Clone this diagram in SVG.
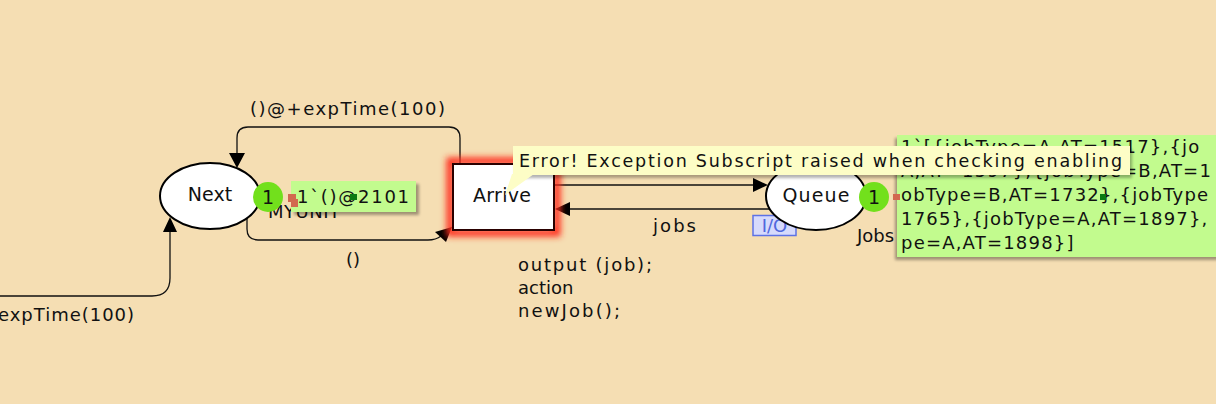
<svg xmlns="http://www.w3.org/2000/svg" width="1216" height="404" viewBox="0 0 1216 404">
<style>
.t{font-family:"DejaVu Sans","Liberation Sans",sans-serif;font-size:18px;fill:#111}
.node{font-family:"DejaVu Sans","Liberation Sans",sans-serif;font-size:19px;fill:#111}
.arc{fill:none;stroke:#111;stroke-width:1.3}
.head{fill:#000}
.place{fill:#fff;stroke:#000;stroke-width:2}
.tok{fill:#72e01c}
.mark{fill:#c2fb8e}
.red{fill:#d2684f}
.dg{fill:#0a7a12}
.mk{font-family:"DejaVu Sans","Liberation Sans",sans-serif;font-size:18px;fill:#111;letter-spacing:1.2px}
</style>
<defs>
<filter id="glow" x="-30%" y="-30%" width="160%" height="160%"><feGaussianBlur stdDeviation="3"/></filter>
<filter id="sh" x="-10%" y="-10%" width="130%" height="140%"><feGaussianBlur stdDeviation="1.5"/></filter>
</defs>
<rect x="0" y="0" width="1216" height="404" fill="#f5deb3"/>

<g id="connectors">
  <path class="arc" d="M460,164 V138 Q460,127 449,127 H248 Q237,127 237,138 V154"/>
  <polygon class="head" points="237,168 229,153 245,153"/>
  <path class="arc" d="M247,218 V229 Q247,240 258,240 H428 Q436,240 441,236"/>
  <polygon class="head" points="452,227 435,232 446,242"/>
  <path class="arc" d="M554,185 H754"/>
  <polygon class="head" points="768,185 753,178 753,192"/>
  <path class="arc" d="M770,209 H569"/>
  <polygon class="head" points="555,209 570,202 570,216"/>
  <path class="arc" d="M-5,296 H152 Q170,296 170,278 V231"/>
  <polygon class="head" points="170,217 163,232 177,232"/>
  <text class="t" x="250" y="115" textLength="195" lengthAdjust="spacing">()@+expTime(100)</text>
  <text class="t" x="346" y="266">()</text>
  <text class="t" x="-2" y="321" textLength="136" lengthAdjust="spacing">expTime(100)</text>
  <text class="t" x="653" y="232" textLength="43" lengthAdjust="spacing">jobs</text>
  <g id="io-tag">
    <rect x="753" y="215.5" width="43" height="20" fill="#d6dafc" stroke="#5c72e6" stroke-width="1.5"/>
    <text x="774.5" y="232" text-anchor="middle" font-family="DejaVu Sans, sans-serif" font-size="18" fill="#5068dc">I/O</text>
  </g>
</g>

<g id="node-next">
  <ellipse class="place" cx="210" cy="196" rx="50" ry="33"/>
  <text class="node" x="210" y="201" text-anchor="middle">Next</text>
  <text class="t" x="268" y="218" textLength="72" lengthAdjust="spacing">MYUNIT</text>
</g>

<g id="node-arrive">
  <rect x="450" y="161" width="107" height="72" fill="none" stroke="#ff2a1a" stroke-width="7" filter="url(#glow)"/>
  <rect x="453" y="164" width="101" height="66" fill="#fff" stroke="#2a0000" stroke-width="2"/>
  <text class="node" x="502" y="202" text-anchor="middle" textLength="58" lengthAdjust="spacing">Arrive</text>
  <text class="t" x="518" y="271" textLength="134" lengthAdjust="spacing">output (job);</text>
  <text class="t" x="518" y="294">action</text>
  <text class="t" x="518" y="317" textLength="102" lengthAdjust="spacing">newJob();</text>
</g>

<g id="node-queue">
  <ellipse class="place" cx="816" cy="196" rx="50" ry="34"/>
  <text class="node" x="816" y="202" text-anchor="middle" textLength="67" lengthAdjust="spacing">Queue</text>
  <text class="t" x="857" y="242">Jobs</text>
</g>

<g id="marking-next">
  <rect x="294" y="184" width="125" height="31" fill="#000" opacity="0.35" filter="url(#sh)"/>
  <rect x="291" y="181" width="125" height="31" class="mark"/>
  <text class="t" x="297" y="203" textLength="112" lengthAdjust="spacing">1`()@2101</text>
  <rect class="red" x="288" y="194" width="8" height="8"/>
  <rect class="red" x="291" y="199" width="7" height="8"/>
  <rect class="dg" x="350" y="194" width="7" height="6"/>
  <circle class="tok" cx="268" cy="197" r="15"/>
  <text x="268" y="204" text-anchor="middle" font-family="DejaVu Sans, sans-serif" font-size="19" fill="#111">1</text>
</g>

<g id="marking-queue">
  <rect x="895" y="138" width="330" height="122" fill="#000" opacity="0.35" filter="url(#sh)"/>
  <rect x="897" y="135" width="330" height="122" class="mark"/>
  <text class="mk" x="901" y="153">1`[{jobType=A,AT=1517},{jo</text>
  <text class="mk" x="901" y="177">A,AT=1597},{jobType=B,AT=1</text>
  <text class="mk" x="901" y="201">obType=B,AT=1732},{jobType</text>
  <text class="mk" x="901" y="225">1765},{jobType=A,AT=1897},</text>
  <text class="mk" x="901" y="249">pe=A,AT=1898}]</text>
  <rect class="red" x="893" y="194" width="7" height="6"/>
  <rect class="dg" x="1100" y="194" width="6" height="6"/>
  <circle class="tok" cx="874" cy="197" r="15"/>
  <text x="874" y="204" text-anchor="middle" font-family="DejaVu Sans, sans-serif" font-size="19" fill="#111">1</text>
</g>

<g id="tooltip">
  <rect x="515" y="149" width="617" height="29" fill="#000" opacity="0.3" filter="url(#sh)"/>
  <polygon points="512,174 534,174 505,195" fill="#fdfdc6"/>
  <rect x="513" y="146" width="617" height="29" fill="#fdfdc6"/>
  <text x="519" y="167" font-family="DejaVu Sans, sans-serif" font-size="17.5" fill="#111" textLength="603" lengthAdjust="spacing">Error! Exception Subscript raised when checking enabling</text>
</g>
</svg>
